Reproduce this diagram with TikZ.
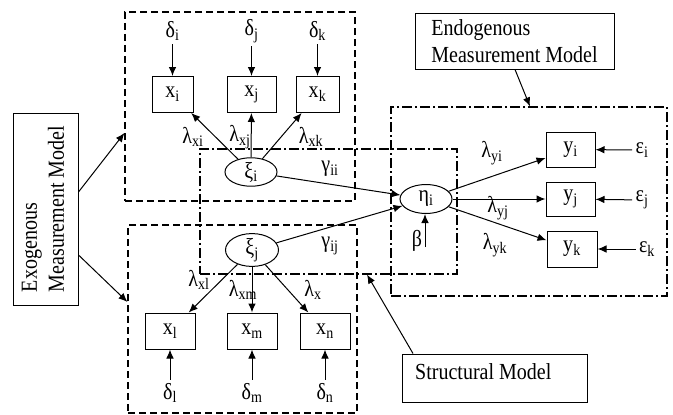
\documentclass[tikz,border=0pt]{standalone}
\usepackage{fontspec}
\setmainfont{Liberation Serif}[FakeStretch=0.87]
\usetikzlibrary{arrows.meta,shapes.geometric}

\newcommand{\sbs}[2]{#1\textsubscript{#2}}

\tikzset{
  every node/.style={font=\fontsize{23}{27}\selectfont},
  obsbox/.style={draw, rectangle, line width=1pt, minimum height=36pt, inner sep=0pt},
  latent/.style={draw, ellipse, line width=1pt, inner sep=0pt, minimum width=52pt, minimum height=27pt},
  arr/.style={-{Latex[length=9pt,width=7.5pt]}, line width=1pt},
  dashframe/.style={draw, rectangle, dash pattern=on 7pt off 4pt, line width=1.1pt, inner sep=0pt},
  dotframe/.style={draw, rectangle, dash pattern=on 10pt off 3pt on 2pt off 3pt, line width=1.1pt, inner sep=0pt},
  titlebox/.style={draw, rectangle, line width=1pt, inner sep=0pt},
  lbl/.style={inner sep=1pt}
}

\begin{document}
\begin{tikzpicture}[x=1pt,y=-1pt]
\useasboundingbox (0,0) rectangle (673,415);

% frames of the sub-models
\node[dashframe, minimum width=230pt, minimum height=189pt] (topframe) at (240,106.5) {};
\node[dashframe, minimum width=229pt, minimum height=188pt] (botframe) at (242.5,319) {};
\node[dotframe, minimum width=257pt, minimum height=125pt] (strframe) at (328.5,211.5) {};
\node[dotframe, minimum width=276pt, minimum height=189pt] (endframe) at (529,201.5) {};

% exogenous indicators, upper block
\node[obsbox, minimum width=41pt] (xi) at (172.5,94.5) {\sbs{x}{i}};
\node[obsbox, minimum width=49pt] (xj) at (251.5,94.5) {\sbs{x}{j}};
\node[obsbox, minimum width=43pt] (xk) at (317.5,94.5) {\sbs{x}{k}};
\node (di) at (172.5,31) {\sbs{δ}{i}};
\node (dj) at (251.5,31) {\sbs{δ}{j}};
\node (dk) at (317.5,31) {\sbs{δ}{k}};

% latent variables
\node[latent] (ksii) at (251,172) {\sbs{ξ}{i}};
\node[latent, minimum width=53pt] (ksij) at (252,250) {\sbs{ξ}{j}};
\node[latent, minimum height=29pt] (eta) at (426,199) {\sbs{η}{i}};

% exogenous indicators, lower block
\node[obsbox, minimum width=50pt] (xl) at (170,331) {\sbs{x}{l}};
\node[obsbox, minimum width=50pt] (xm) at (252,331) {\sbs{x}{m}};
\node[obsbox, minimum width=50pt] (xn) at (325,331) {\sbs{x}{n}};
\node (dl) at (170,393) {\sbs{δ}{l}};
\node (dm) at (252,393) {\sbs{δ}{m}};
\node (dn) at (325,393) {\sbs{δ}{n}};

% endogenous indicators
\node[obsbox, minimum width=49pt, minimum height=35pt] (yi) at (570.5,149.5) {\sbs{y}{i}};
\node[obsbox, minimum width=49pt, minimum height=34pt] (yj) at (570.5,199) {\sbs{y}{j}};
\node[obsbox, minimum width=50pt] (yk) at (572,249) {\sbs{y}{k}};
\node (ei) at (642,150) {\sbs{ε}{i}};
\node (ej) at (642,200) {\sbs{ε}{j}};
\node (ek) at (647,249) {\sbs{ε}{k}};
\node (beta) at (417,241) {β};
\coordinate (betatail) at (425,247);

% titles
\node[titlebox, minimum width=65pt, minimum height=192pt] (exo) at (45.5,209) {};
\node[rotate=90, align=left, inner sep=0pt] (exotext) at (43,209) {Exogenous\\Measurement Model};
\node[titlebox, minimum width=199pt, minimum height=56pt, align=left] (endo) at (514.5,41) {Endogenous\\Measurement Model};
\node[titlebox, minimum width=185pt, minimum height=48pt] (strbox) at (494.5,378) {};
\node[anchor=west, inner sep=0pt] (strtext) at (415,372) {Structural Model};

% path coefficients
\node[lbl] (lxi) at (193,137) {\sbs{λ}{xi}};
\node[lbl] (lxj) at (240,137) {\sbs{λ}{xj}};
\node[lbl] (lxk) at (311,137) {\sbs{λ}{xk}};
\node[lbl] (gii) at (330,169) {\sbs{γ}{ii}};
\node[lbl] (gij) at (330,246) {\sbs{γ}{ij}};
\node[lbl] (lxl) at (199,280) {\sbs{λ}{xl}};
\node[lbl] (lxm) at (243,290) {\sbs{λ}{xm}};
\node[lbl] (lxx) at (313,290) {\sbs{λ}{x}};
\node[lbl] (lyi) at (492,153) {\sbs{λ}{yi}};
\node[lbl] (lyj) at (498,208) {\sbs{λ}{yj}};
\node[lbl] (lyk) at (495,245) {\sbs{λ}{yk}};

% error terms
\draw[arr] (di) -- (xi);
\draw[arr] (dj) -- (xj);
\draw[arr] (dk) -- (xk);
\draw[arr] (dl) -- (xl);
\draw[arr] (dm) -- (xm);
\draw[arr] (dn) -- (xn);
\draw[arr] (ei) -- (yi);
\draw[arr] (ej) -- (yj);
\draw[arr] (ek) -- (yk);
\draw[arr] (betatail) -- (betatail |- eta.south);

% loadings and structural paths
\draw[arr] (ksii) -- (xi);
\draw[arr] (ksii) -- (xj);
\draw[arr] (ksii) -- (xk);
\draw[arr] (ksij) -- (xl);
\draw[arr] (ksij) -- (xm);
\draw[arr] (ksij) -- (xn);
\draw[arr] (ksii) -- (eta);
\draw[arr] (ksij) -- (eta);
\draw[arr] (eta) -- (yi);
\draw[arr] (eta) -- (yj);
\draw[arr] (eta) -- (yk);

% pointers from the titles
\draw[arr] (exo.east |- 0,192) -- (topframe.west |- 0,133);
\draw[arr] (exo.east |- 0,255) -- (botframe.west |- 0,302);
\draw[arr] (endo.south -| 515,0) -- (endframe.north -| 530,0);
\draw[arr] (strbox.north -| 413,0) -- (strframe.south -| 367,0);

\end{tikzpicture}
\end{document}
